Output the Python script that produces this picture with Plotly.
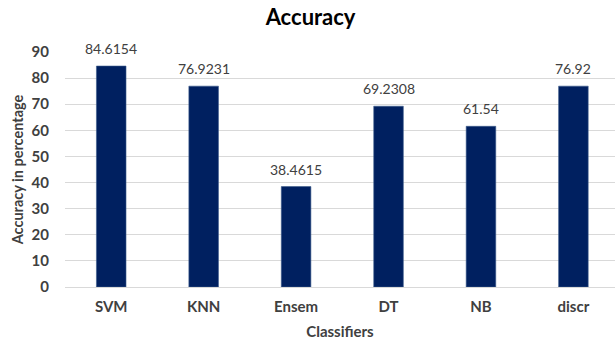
import plotly.graph_objects as go

classifiers = ["SVM", "KNN", "Ensem", "DT", "NB", "discr"]
accuracy = [84.6154, 76.9231, 38.4615, 69.2308, 61.54, 76.92]
value_labels = ["84.6154", "76.9231", "38.4615", "69.2308", "61.54", "76.92"]
y_ticks = [0, 10, 20, 30, 40, 50, 60, 70, 80, 90]

FONT = "Lato, 'Open Sans', sans-serif"
BAR = "#002060"
TEXT = "#404040"

fig = go.Figure(
    go.Bar(
        x=classifiers,
        y=accuracy,
        width=0.32,
        marker=dict(color=BAR, line=dict(color="#3a5a8c", width=0.6)),
        hoverinfo="skip",
    )
)

for cat, val, lab in zip(classifiers, accuracy, value_labels):
    fig.add_annotation(
        x=cat, y=val, text=lab, showarrow=False,
        yanchor="bottom", yshift=7,
        font=dict(family=FONT, size=14, color=TEXT),
    )

fig.update_layout(
    width=615, height=345,
    margin=dict(l=65, r=0, t=52, b=58),
    paper_bgcolor="white", plot_bgcolor="white",
    showlegend=False,
    title=dict(
        text="<b>Accuracy</b>", x=0.505, xanchor="center",
        y=1 - 17 / 345, yanchor="middle",
        font=dict(family=FONT, size=22, color="#000000"),
    ),
    xaxis=dict(
        range=[-0.5, 5.45],
        showgrid=False, zeroline=False, showline=False,
        ticks="", ticklabelstandoff=9,
        tickfont=dict(family=FONT, size=15, color=TEXT, weight="bold"),
        title=dict(text="<b>Classifiers</b>", standoff=12,
                   font=dict(family=FONT, size=15, color=TEXT)),
    ),
    yaxis=dict(
        range=[0, 90], tickvals=y_ticks,
        showgrid=True, gridcolor="#d9d9d9", gridwidth=1,
        zeroline=True, zerolinecolor="#d9d9d9", zerolinewidth=1,
        showline=False, ticks="", ticklabelstandoff=15,
        tickfont=dict(family=FONT, size=15, color=TEXT, weight="bold"),
        title=dict(text="<b>Accuracy in percentage</b>", standoff=4,
                   font=dict(family=FONT, size=14.5, color=TEXT)),
    ),
)

fig.write_html("out.html")
